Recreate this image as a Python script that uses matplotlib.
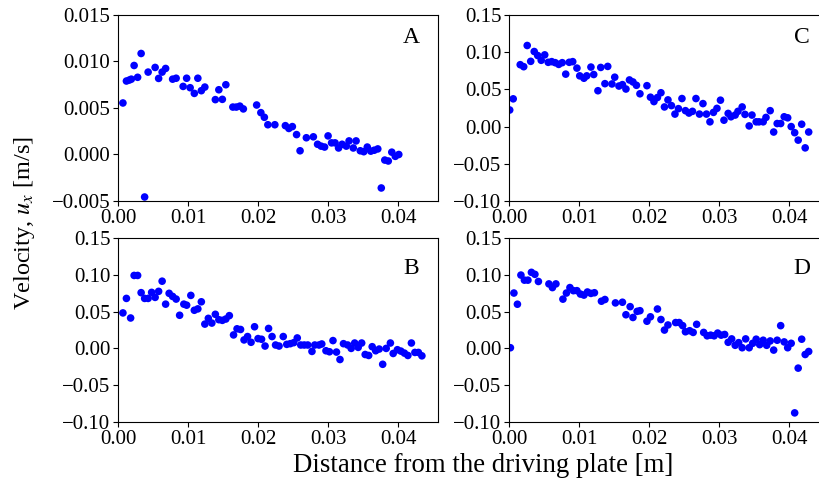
import numpy as np
import matplotlib
matplotlib.use("Agg")
import matplotlib.pyplot as plt

plt.rcParams['font.family'] = ['Liberation Serif', 'DejaVu Serif']
plt.rcParams['mathtext.fontset'] = 'stix'
plt.rcParams['font.size'] = 15

# ---- data ----
xA = [0.0007, 0.0012, 0.0016, 0.0019, 0.0023, 0.0028, 0.0033, 0.0038, 0.0043, 0.0053,
      0.0058, 0.0063, 0.0068, 0.0078, 0.0083, 0.0093, 0.0098, 0.0103, 0.0109, 0.0114,
      0.0119, 0.0124, 0.0139, 0.0144, 0.0149, 0.0154, 0.0164, 0.0169, 0.0174, 0.0179,
      0.0198, 0.0204, 0.0209, 0.0214, 0.0224, 0.0239, 0.0244, 0.0249, 0.0255, 0.0260,
      0.0269, 0.0279, 0.0285, 0.0290, 0.0295, 0.0300, 0.0305, 0.0310, 0.0315, 0.0320,
      0.0326, 0.0330, 0.0336, 0.0340, 0.0346, 0.0351, 0.0356, 0.0361, 0.0366, 0.0371,
      0.0376, 0.0381, 0.0386, 0.0391, 0.0396, 0.0401]
yA = [0.00554, 0.0079, 0.0080, 0.0081, 0.00957, 0.0083, 0.01086, -0.00457, 0.00886, 0.00936,
      0.00818, 0.00886, 0.00925, 0.0081, 0.0082, 0.00732, 0.0082, 0.00718, 0.00657, 0.0082,
      0.00686, 0.00725, 0.0059, 0.00696, 0.00593, 0.0075, 0.0051, 0.0051, 0.0052, 0.0049,
      0.00532, 0.0045, 0.0040, 0.0032, 0.0032, 0.0031, 0.0028, 0.0030, 0.00214, 0.0004,
      0.0018, 0.0019, 0.0011, 0.0009, 0.0008, 0.0020, 0.00125, 0.00125, 0.0007, 0.0011,
      0.0009, 0.00146, 0.0007, 0.00146, 0.0004, 0.0003, 0.0008, 0.00036, 0.00046, 0.0006,
      -0.0036, -0.0006, -0.0007, 0.00025, -0.0002, 0.0000]

xB = [0.0007, 0.0012, 0.0018, 0.0023, 0.0028, 0.0033, 0.0038, 0.0043, 0.0048, 0.0053,
      0.0058, 0.0063, 0.0068, 0.0073, 0.0078, 0.0083, 0.0088, 0.0094, 0.0098, 0.0104,
      0.0109, 0.0114, 0.0119, 0.0124, 0.0129, 0.0134, 0.0139, 0.0144, 0.0149, 0.0154,
      0.0159, 0.0165, 0.0170, 0.0175, 0.0180, 0.0185, 0.0190, 0.0195, 0.0200, 0.0205,
      0.0210, 0.0215, 0.0220, 0.0225, 0.0230, 0.0236, 0.0241, 0.0246, 0.0251, 0.0256,
      0.0261, 0.0266, 0.0271, 0.0277, 0.0281, 0.0287, 0.0291, 0.0297, 0.0302, 0.0307,
      0.0312, 0.0317, 0.0322, 0.0328, 0.0333, 0.0338, 0.0343, 0.0348, 0.0353, 0.0358,
      0.0363, 0.0368, 0.0373, 0.0378, 0.0383, 0.0389, 0.0393, 0.0399, 0.0404, 0.0409,
      0.0414, 0.0419, 0.0424, 0.0429, 0.0434]
yB = [0.0482, 0.0679, 0.0413, 0.0991, 0.0991, 0.0757, 0.0679, 0.0679, 0.0761, 0.0693,
      0.0775, 0.0913, 0.0601, 0.0748, 0.0706, 0.0670, 0.0450, 0.0601, 0.0587, 0.0720,
      0.0518, 0.0537, 0.0633, 0.0330, 0.0408, 0.0344, 0.0463, 0.0390, 0.0381, 0.0399,
      0.0445, 0.0183, 0.0266, 0.0257, 0.0115, 0.0161, 0.0083, 0.0294, 0.0133, 0.0124,
      0.0032, 0.0271, 0.0161, 0.0046, 0.0032, 0.0161, 0.0055, 0.0064, 0.0078, 0.0142,
      0.0046, 0.0046, 0.0046, -0.0041, 0.0046, 0.0046, 0.0060, -0.0032, -0.0046, 0.0106,
      -0.0050, -0.0151, 0.0064, 0.0046, 0.0000, 0.0073, 0.0014, 0.0073, -0.0083, -0.0096,
      0.0023, -0.0032, -0.0009, -0.0216, 0.0000, 0.0073, -0.0069, -0.0018, -0.0037, -0.0064,
      -0.0096, 0.0073, -0.0055, -0.0055, -0.0101]

xC = [0.0001, 0.0006, 0.0016, 0.0021, 0.0026, 0.0031, 0.0036, 0.0041, 0.0046, 0.0051,
      0.0056, 0.0061, 0.0066, 0.0071, 0.0076, 0.0081, 0.0086, 0.0091, 0.0097, 0.0101,
      0.0107, 0.0111, 0.0117, 0.0121, 0.0127, 0.0131, 0.0137, 0.0141, 0.0147, 0.0151,
      0.0157, 0.0162, 0.0167, 0.0172, 0.0177, 0.0182, 0.0187, 0.0197, 0.0202, 0.0207,
      0.0212, 0.0217, 0.0222, 0.0227, 0.0232, 0.0237, 0.0242, 0.0247, 0.0252, 0.0257,
      0.0262, 0.0267, 0.0272, 0.0277, 0.0282, 0.0287, 0.0292, 0.0297, 0.0302, 0.0307,
      0.0313, 0.0317, 0.0323, 0.0327, 0.0333, 0.0337, 0.0343, 0.0347, 0.0353, 0.0357,
      0.0363, 0.0367, 0.0373, 0.0378, 0.0383, 0.0388, 0.0393, 0.0398, 0.0403, 0.0408,
      0.0413, 0.0418, 0.0423, 0.0428]
yC = [0.0223, 0.0373, 0.0832, 0.0805, 0.1090, 0.0877, 0.1009, 0.0955, 0.0891, 0.0964,
      0.0864, 0.0873, 0.0859, 0.0836, 0.0859, 0.0705, 0.0864, 0.0873, 0.0786, 0.0682,
      0.0650, 0.0682, 0.0800, 0.0700, 0.0482, 0.0795, 0.0577, 0.0809, 0.0573, 0.0664,
      0.0545, 0.0564, 0.0505, 0.0627, 0.0600, 0.0555, 0.0441, 0.0550, 0.0395, 0.0336,
      0.0391, 0.0455, 0.0264, 0.0359, 0.0282, 0.0168, 0.0241, 0.0377, 0.0214, 0.0182,
      0.0205, 0.0377, 0.0168, 0.0309, 0.0168, 0.0064, 0.0191, 0.0245, 0.0355, 0.0086,
      0.0177, 0.0132, 0.0155, 0.0205, 0.0264, 0.0164, 0.0009, 0.0155, 0.0064, 0.0064,
      0.0064, 0.0123, 0.0214, -0.0073, 0.0041, 0.0041, 0.0132, 0.0118, 0.0000, -0.0082,
      -0.0182, 0.0032, -0.0286, -0.0073]

xD = [0.0002, 0.0007, 0.0012, 0.0017, 0.0022, 0.0027, 0.0032, 0.0037, 0.0042, 0.0057,
      0.0062, 0.0067, 0.0077, 0.0082, 0.0087, 0.0092, 0.0097, 0.0102, 0.0107, 0.0112,
      0.0117, 0.0122, 0.0132, 0.0137, 0.0152, 0.0162, 0.0167, 0.0173, 0.0177, 0.0183,
      0.0187, 0.0197, 0.0202, 0.0212, 0.0217, 0.0222, 0.0227, 0.0238, 0.0243, 0.0248,
      0.0252, 0.0258, 0.0263, 0.0268, 0.0278, 0.0283, 0.0288, 0.0293, 0.0298, 0.0303,
      0.0308, 0.0313, 0.0318, 0.0323, 0.0328, 0.0333, 0.0338, 0.0343, 0.0348, 0.0353,
      0.0358, 0.0363, 0.0368, 0.0373, 0.0378, 0.0383, 0.0388, 0.0393, 0.0398, 0.0403,
      0.0408, 0.0413, 0.0418, 0.0423, 0.0428]
yD = [0.0009, 0.0752, 0.0600, 0.0996, 0.0927, 0.0927, 0.1033, 0.1006, 0.0909, 0.0876,
      0.0826, 0.0876, 0.0669, 0.0752, 0.0826, 0.0784, 0.0784, 0.0738, 0.0724, 0.0766,
      0.0747, 0.0756, 0.0641, 0.0664, 0.0618, 0.0627, 0.0457, 0.0567, 0.0420, 0.0503,
      0.0512, 0.0369, 0.0429, 0.0535, 0.0392, 0.0249, 0.0318, 0.0351, 0.0351, 0.0309,
      0.0226, 0.0240, 0.0217, 0.0327, 0.0217, 0.0171, 0.0180, 0.0171, 0.0208, 0.0180,
      0.0189, 0.0083, 0.0129, 0.0042, 0.0078, 0.0009, 0.0129, 0.0009, 0.0069, 0.0125,
      0.0051, 0.0111, 0.0042, 0.0101, -0.0023, 0.0111, 0.0309, 0.0088, 0.0009, 0.0069,
      -0.0876, -0.0268, 0.0125, -0.0083, -0.0042]

panels = [
    ("A", xA, yA, [0.1441, 0.5923, 0.3907, 0.3773], (-0.005, 0.015), 0.005, "%.3f", 0.878),
    ("C", xC, yC, [0.6215, 0.5923, 0.3907, 0.3773], (-0.10, 0.15), 0.05, "%.2f", 0.878),
    ("B", xB, yB, [0.1441, 0.1440, 0.3907, 0.3733], (-0.10, 0.15), 0.05, "%.2f", 0.836),
    ("D", xD, yD, [0.6215, 0.1440, 0.3907, 0.3733], (-0.10, 0.15), 0.05, "%.2f", 0.836),
]

fig = plt.figure(figsize=(8.19, 4.93), dpi=100)

for name, xs, ys, rect, ylim, ystep, fmt, ty in panels:
    ax = fig.add_axes(rect)
    ax.scatter(xs, ys, s=30, color='blue', edgecolors='none')
    ax.set_xlim(0, 0.0457)
    ax.set_ylim(*ylim)
    ax.set_xticks(np.arange(0, 0.041, 0.01))
    ax.set_xticklabels(["%.2f" % v for v in np.arange(0, 0.041, 0.01)])
    yt = np.arange(ylim[0], ylim[1] + ystep / 2, ystep)
    ax.set_yticks(yt)
    ax.set_yticklabels([(fmt % v).replace("-", "\u2212") for v in yt])
    ax.tick_params(labelsize=15, pad=2)
    ax.text(0.915, ty, name, transform=ax.transAxes, fontsize=17,
            ha='center', va='center')

fig.text(0.0305, 0.548, r"Velocity, $u_x$ [m/s]", rotation=90,
         ha='center', va='center', fontsize=17.5)
fig.text(0.5897, 0.055, "Distance from the driving plate [m]",
         ha='center', va='center', fontsize=19.3)

fig.savefig("out.png", dpi=100)
